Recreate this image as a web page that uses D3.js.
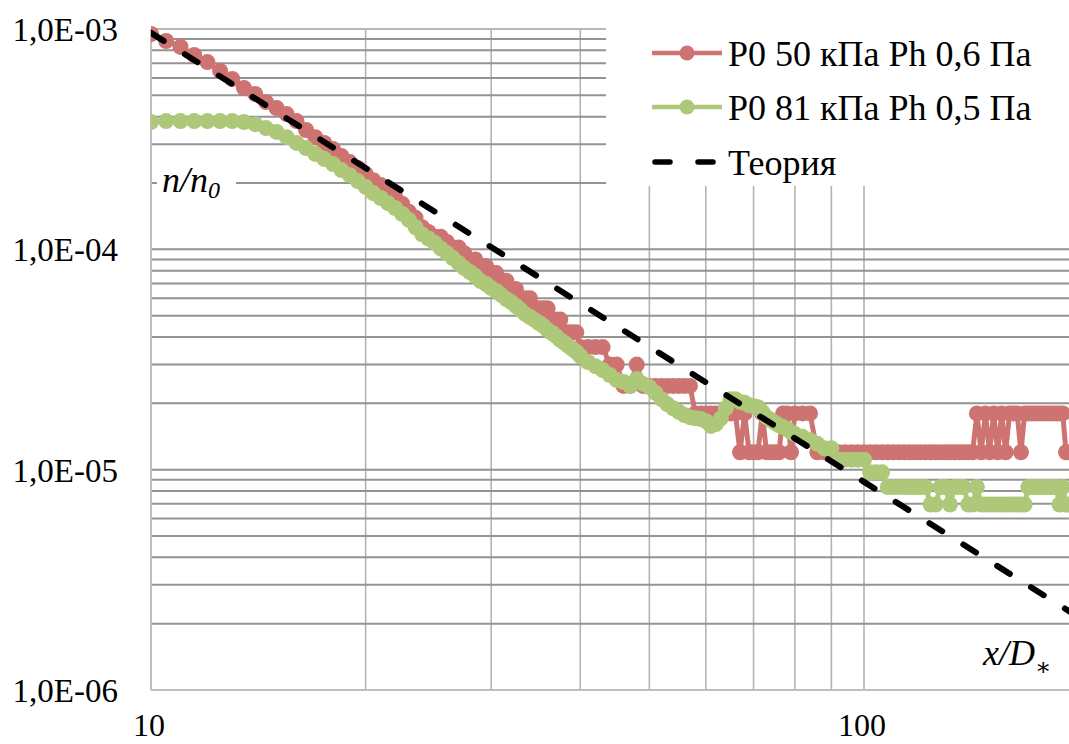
<!DOCTYPE html>
<html>
<head>
<meta charset="utf-8">
<script src="https://cdn.jsdelivr.net/npm/d3@7"></script>
<style>
    html, body { margin: 0; padding: 0; background: #fff; }
    svg { display: block; }
</style>
</head>
<body>
<svg id="chart" width="1069" height="744"></svg>
<script>
// x/D* positions shared by both measured series
const xValues = [
    10, 10.5, 11, 11.5, 12, 12.5, 13, 13.5, 14, 14.5, 15, 15.5, 16, 16.5, 17, 17.5, 18, 18.5, 19, 19.5,
    20, 20.5, 21, 21.5, 22, 22.5, 23, 23.5, 24, 24.5, 25, 25.5, 26, 26.5, 27, 27.5, 28, 28.5, 29, 29.5,
    30, 30.5, 31, 31.5, 32, 32.5, 33, 33.5, 34, 34.5, 35, 35.5, 36, 36.5, 37, 37.5, 38, 38.5, 39, 39.5, 40,
    41, 42, 43, 44, 45, 46, 47, 48, 49, 50, 51, 52, 53, 54, 55, 56, 57, 58, 59, 60,
    61, 62, 63, 64, 65, 66, 67, 68, 69, 70, 71, 72, 73, 74, 75, 76, 77, 78, 79, 80,
    82, 84, 86, 88, 90, 92, 94, 96, 98, 100, 102, 104, 106, 108, 110, 112, 114, 116, 118, 120,
    122, 124, 126, 128, 130, 132, 134, 136, 138, 140, 142, 144, 146, 148, 150, 152, 154, 156, 158, 160,
    162, 164, 166, 168, 170, 172, 174, 176, 178, 180, 182, 184, 186, 188, 190, 192, 194
];

// P0 50 кПа Ph 0,6 Па
const redValues = [
    9.49e-4, 8.82e-4, 8.29e-4, 7.62e-4, 7.08e-4, 6.45e-4, 5.93e-4, 5.40e-4, 5.07e-4, 4.66e-4,
    4.38e-4, 4.11e-4, 3.82e-4, 3.48e-4, 3.23e-4, 3.04e-4, 2.85e-4, 2.65e-4, 2.49e-4, 2.34e-4,
    2.20e-4, 2.06e-4, 1.96e-4, 1.84e-4, 1.73e-4, 1.61e-4, 1.48e-4, 1.39e-4, 1.26e-4, 1.20e-4,
    1.14e-4, 1.14e-4, 1.08e-4, 1.02e-4, 1.02e-4, 9.6e-5, 9.0e-5, 9.0e-5, 8.4e-5, 8.4e-5,
    7.8e-5, 7.8e-5, 7.2e-5, 7.2e-5, 6.6e-5, 6.6e-5, 6.0e-5, 6.0e-5, 6.0e-5, 5.4e-5,
    5.4e-5, 5.4e-5, 5.4e-5, 4.8e-5, 4.8e-5, 4.8e-5, 4.2e-5, 4.2e-5, 4.2e-5, 4.2e-5, 3.6e-5,
    3.6e-5, 3.6e-5, 3.6e-5, 3.0e-5, 3.0e-5, 2.4e-5, 2.4e-5, 3.0e-5, 2.4e-5, 2.4e-5,
    2.4e-5, 2.4e-5, 2.4e-5, 2.4e-5, 2.4e-5, 2.4e-5, 2.4e-5, 1.8e-5, 1.8e-5, 1.8e-5,
    1.8e-5, 1.8e-5, 1.8e-5, 1.8e-5, 1.8e-5, 1.8e-5, 1.2e-5, 1.8e-5, 1.2e-5, 1.2e-5,
    1.2e-5, 1.8e-5, 1.2e-5, 1.2e-5, 1.2e-5, 1.2e-5, 1.8e-5, 1.8e-5, 1.2e-5, 1.8e-5,
    1.8e-5, 1.8e-5, 1.2e-5, 1.2e-5, 1.2e-5, 1.2e-5, 1.2e-5, 1.2e-5, 1.2e-5, 1.2e-5,
    1.2e-5, 1.2e-5, 1.2e-5, 1.2e-5, 1.2e-5, 1.2e-5, 1.2e-5, 1.2e-5, 1.2e-5, 1.2e-5,
    1.2e-5, 1.2e-5, 1.2e-5, 1.2e-5, 1.2e-5, 1.2e-5, 1.2e-5, 1.2e-5, 1.2e-5, 1.2e-5,
    1.2e-5, 1.8e-5, 1.2e-5, 1.8e-5, 1.2e-5, 1.8e-5, 1.2e-5, 1.8e-5, 1.2e-5, 1.8e-5,
    1.8e-5, 1.8e-5, 1.2e-5, 1.8e-5, 1.8e-5, 1.8e-5, 1.8e-5, 1.8e-5, 1.8e-5, 1.8e-5,
    1.8e-5, 1.8e-5, 1.8e-5, 1.8e-5, 1.8e-5, 1.2e-5, 1.2e-5
];

// P0 81 кПа Ph 0,5 Па
const greenValues = [
    3.78e-4, 3.82e-4, 3.82e-4, 3.82e-4, 3.82e-4, 3.82e-4, 3.82e-4, 3.78e-4, 3.70e-4, 3.55e-4,
    3.41e-4, 3.23e-4, 3.04e-4, 2.88e-4, 2.71e-4, 2.57e-4, 2.44e-4, 2.29e-4, 2.17e-4, 2.04e-4,
    1.92e-4, 1.80e-4, 1.71e-4, 1.62e-4, 1.54e-4, 1.45e-4, 1.36e-4, 1.26e-4, 1.17e-4, 1.12e-4,
    1.07e-4, 1.01e-4, 9.62e-5, 9.13e-5, 8.67e-5, 8.22e-5, 7.89e-5, 7.56e-5, 7.18e-5, 6.96e-5,
    6.67e-5, 6.47e-5, 6.20e-5, 5.95e-5, 5.76e-5, 5.53e-5, 5.30e-5, 5.08e-5, 4.93e-5, 4.78e-5,
    4.63e-5, 4.49e-5, 4.30e-5, 4.17e-5, 4.04e-5, 3.88e-5, 3.76e-5, 3.64e-5, 3.53e-5, 3.42e-5, 3.28e-5,
    3.08e-5, 2.95e-5, 2.83e-5, 2.69e-5, 2.55e-5, 2.50e-5, 2.40e-5, 2.58e-5, 2.45e-5, 2.37e-5,
    2.23e-5, 2.09e-5, 1.98e-5, 1.90e-5, 1.83e-5, 1.77e-5, 1.73e-5, 1.71e-5, 1.70e-5, 1.66e-5,
    1.58e-5, 1.61e-5, 1.71e-5, 1.90e-5, 2.09e-5, 2.09e-5, 2.03e-5, 2.01e-5, 1.96e-5, 1.94e-5,
    1.92e-5, 1.83e-5, 1.73e-5, 1.68e-5, 1.63e-5, 1.59e-5, 1.56e-5, 1.53e-5, 1.48e-5, 1.45e-5,
    1.41e-5, 1.36e-5, 1.31e-5, 1.25e-5, 1.25e-5, 1.11e-5, 1.11e-5, 1.11e-5, 1.11e-5, 1.11e-5,
    9.73e-6, 9.73e-6, 9.73e-6, 8.34e-6, 8.34e-6, 8.34e-6, 8.34e-6, 8.34e-6, 8.34e-6, 8.34e-6,
    8.34e-6, 6.95e-6, 6.95e-6, 8.34e-6, 8.34e-6, 6.95e-6, 8.34e-6, 8.34e-6, 8.34e-6, 6.95e-6,
    6.95e-6, 8.34e-6, 6.95e-6, 6.95e-6, 6.95e-6, 6.95e-6, 6.95e-6, 6.95e-6, 6.95e-6, 6.95e-6,
    6.95e-6, 6.95e-6, 6.95e-6, 6.95e-6, 8.34e-6, 8.34e-6, 8.34e-6, 8.34e-6, 8.34e-6, 8.34e-6,
    8.34e-6, 8.34e-6, 8.34e-6, 6.95e-6, 8.34e-6, 6.95e-6, 6.95e-6
];

// Теория
const theoryX = [10, 100, 200];
const theoryValues = [9.6e-4, 8.8e-6, 2.14e-6];

const seriesNames = ['P0 50 кПа Ph 0,6 Па', 'P0 81 кПа Ph 0,5 Па', 'Теория'];
const yTickValues = [1e-6, 1e-5, 1e-4, 1e-3];
const yTickLabels = ['1,0E-06', '1,0E-05', '1,0E-04', '1,0E-03'];
const xTickValues = [10, 100];
const xTickLabels = ['10', '100'];

const RED = '#cd7371';
const GREEN = '#adc878';
const FONT = 'Liberation Serif, Times New Roman, Times, DejaVu Serif, Noto Serif, serif';

const svg = d3.select('#chart').style('font-family', FONT);

// Plot area: decade of x = 713px, decade of y = 220.3px
const plotLeft = 151, plotTop = 29, plotBottom = 690, plotRight = 1069;
const x = d3.scaleLog().domain([10, 200]).range([plotLeft, plotLeft + 713 * Math.log10(20)]);
const y = d3.scaleLog().domain([1e-6, 1e-3]).range([plotBottom, plotTop]);

svg.append('defs').append('clipPath')
    .attr('id', 'plot-clip')
    .append('rect')
    .attr('x', plotLeft)
    .attr('y', plotTop - 8)
    .attr('width', plotRight - plotLeft)
    .attr('height', plotBottom - plotTop + 8);

// Vertical gridlines
const xGrid = x.ticks().filter(t => t > 10 && x(t) < plotRight);
svg.append('g')
    .selectAll('line')
    .data(xGrid)
    .join('line')
    .attr('x1', d => x(d)).attr('x2', d => x(d))
    .attr('y1', plotTop).attr('y2', plotBottom)
    .attr('stroke', '#b3b3b3')
    .attr('stroke-width', 1.6);

// Horizontal gridlines
const yGrid = y.ticks().filter(t => t > 1e-6);
svg.append('g')
    .selectAll('line')
    .data(yGrid)
    .join('line')
    .attr('x1', plotLeft).attr('x2', plotRight)
    .attr('y1', d => y(d)).attr('y2', d => y(d))
    .attr('stroke', d => d === 1e-3 ? '#b8b8b8' : '#939393')
    .attr('stroke-width', 2);

// Axis lines
svg.append('line')
    .attr('x1', plotLeft).attr('x2', plotLeft)
    .attr('y1', plotTop).attr('y2', plotBottom)
    .attr('stroke', '#bfbfbf').attr('stroke-width', 2);
svg.append('line')
    .attr('x1', plotLeft).attr('x2', plotRight)
    .attr('y1', plotBottom).attr('y2', plotBottom)
    .attr('stroke', '#bfbfbf').attr('stroke-width', 2);

// Tick labels
svg.append('g')
    .selectAll('text')
    .data(yTickValues)
    .join('text')
    .attr('x', 118)
    .attr('y', d => y(d) + 12)
    .attr('text-anchor', 'end')
    .style('font-size', '33px')
    .text((d, i) => yTickLabels[i]);

svg.append('g')
    .selectAll('text')
    .data(xTickValues)
    .join('text')
    .attr('x', d => x(d) - 2)
    .attr('y', 736)
    .attr('text-anchor', 'middle')
    .style('font-size', '32px')
    .text((d, i) => xTickLabels[i]);

// Axis titles
svg.append('rect')
    .attr('x', 157).attr('y', 163)
    .attr('width', 79).attr('height', 40)
    .attr('fill', '#fff');
const yTitle = svg.append('text')
    .attr('x', 162).attr('y', 192)
    .style('font-size', '36px')
    .style('font-style', 'italic');
yTitle.append('tspan').text('n/n');
yTitle.append('tspan').attr('dy', 6).style('font-size', '24px').text('0');

const xTitle = svg.append('text')
    .attr('x', 983).attr('y', 665)
    .style('font-size', '36px')
    .style('font-style', 'italic');
xTitle.append('tspan').text('x/D');
xTitle.append('tspan').attr('dy', 10).style('font-size', '24px').style('font-style', 'normal').text('∗');

// Data series
const plot = svg.append('g').attr('clip-path', 'url(#plot-clip)');

const line = d3.line()
    .x(d => x(d[0]))
    .y(d => y(d[1]));

function drawSeries(values, color) {
    const points = xValues.map((xv, i) => [xv, values[i]]);
    plot.append('path')
        .datum(points)
        .attr('d', line)
        .attr('fill', 'none')
        .attr('stroke', color)
        .attr('stroke-width', 5)
        .attr('stroke-linejoin', 'round');
    plot.append('g')
        .selectAll('circle')
        .data(points)
        .join('circle')
        .attr('cx', d => x(d[0]))
        .attr('cy', d => y(d[1]))
        .attr('r', 8)
        .attr('fill', color);
}

drawSeries(redValues, RED);
drawSeries(greenValues, GREEN);

// Theory line on top
plot.append('path')
    .datum(theoryX.map((xv, i) => [xv, theoryValues[i]]))
    .attr('d', line)
    .attr('fill', 'none')
    .attr('stroke', '#000')
    .attr('stroke-width', 6)
    .attr('stroke-linecap', 'round')
    .attr('stroke-dasharray', '15,25');

// Legend
const legend = svg.append('g');
legend.append('rect')
    .attr('x', 606).attr('y', 0)
    .attr('width', 470).attr('height', 186)
    .attr('fill', '#fff');

const legendRows = [
    { name: seriesNames[0], color: RED, y: 53, marker: true },
    { name: seriesNames[1], color: GREEN, y: 107, marker: true },
    { name: seriesNames[2], color: '#000', y: 162, marker: false }
];

legendRows.forEach(row => {
    if (row.marker) {
        legend.append('line')
            .attr('x1', 652).attr('x2', 722)
            .attr('y1', row.y).attr('y2', row.y)
            .attr('stroke', row.color)
            .attr('stroke-width', 4.5);
        legend.append('circle')
            .attr('cx', 687).attr('cy', row.y)
            .attr('r', 7.5)
            .attr('fill', row.color);
    } else {
        legend.append('line')
            .attr('x1', 655).attr('x2', 715)
            .attr('y1', row.y).attr('y2', row.y)
            .attr('stroke', row.color)
            .attr('stroke-width', 5.5)
            .attr('stroke-linecap', 'round')
            .attr('stroke-dasharray', '15,28');
    }
    legend.append('text')
        .attr('x', 728)
        .attr('y', row.y + 13)
        .style('font-size', '36px')
        .text(row.name);
});
</script>
</body>
</html>
